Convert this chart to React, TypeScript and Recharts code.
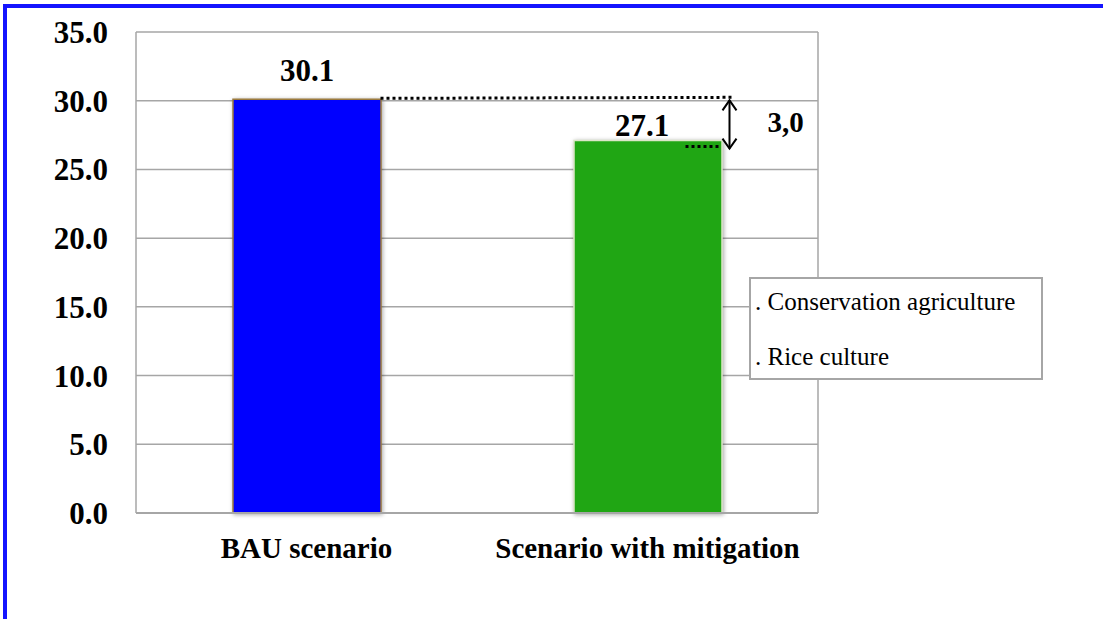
import React from 'react';
import {
  BarChart,
  Bar,
  Cell,
  XAxis,
  YAxis,
  CartesianGrid,
  LabelList,
  ReferenceLine,
} from 'recharts';

// values
const categories = ['BAU scenario', 'Scenario with mitigation'];
const emissions = [30.1, 27.1];
const yTicks = [0, 5, 10, 15, 20, 25, 30, 35];
const measures = ['. Conservation agriculture', '. Rice culture'];
const reductionText = '3,0';

const barColors = ['#0000FF', '#20A614'];
const barStrokes = ['#9C7A3C', '#DCE6C8'];
const SERIF = "'Liberation Serif', 'Times New Roman', serif";
const BAR_SIZE = 148;

const data = categories.map((name, i) => ({ name, value: emissions[i] }));

// per-bar nudge of the value labels (dx, distance above bar)
const labelShift = [
  { dx: 0, up: 18 },
  { dx: -6, up: 5 },
];

const ValueLabel = (props: any) => {
  const { x, y, width, value, index } = props;
  const s = labelShift[index] || { dx: 0, up: 5 };
  return (
    <text
      x={x + width / 2 + s.dx}
      y={y - s.up}
      textAnchor="middle"
      fontFamily={SERIF}
      fontWeight="bold"
      fontSize={31}
      fill="#000"
    >
      {Number(value).toFixed(1)}
    </text>
  );
};

// dotted guide from the BAU bar to the mitigation bar + double arrow
const GapMarker = (props: any) => {
  const { x1, y1, x2 } = props;
  const half = BAR_SIZE / 2;
  const startX = x1 + half;
  const endX = x2 + half + 11;
  const pxPerUnit = 481 / 35;
  const lowY = y1 + (emissions[0] - emissions[1]) * pxPerUnit + 6;
  const ax = endX - 3;
  return (
    <g>
      <line x1={startX} y1={y1 - 1} x2={endX} y2={y1 - 2} stroke="#000" strokeWidth={3} strokeDasharray="3 3" />
      <line x1={x2 + half - 36} y1={lowY} x2={x2 + half - 2} y2={lowY} stroke="#000" strokeWidth={3} strokeDasharray="3 3" />
      <line x1={ax} y1={y1 + 1} x2={ax} y2={lowY + 2} stroke="#000" strokeWidth={2} />
      <polyline points={`${ax - 7},${y1 + 11} ${ax},${y1 + 1} ${ax + 7},${y1 + 11}`} fill="none" stroke="#000" strokeWidth={2} />
      <polyline points={`${ax - 7},${lowY - 8} ${ax},${lowY + 2} ${ax + 7},${lowY - 8}`} fill="none" stroke="#000" strokeWidth={2} />
      <text x={endX + 53} y={y1 + 33} textAnchor="middle" fontFamily={SERIF} fontWeight="bold" fontSize={29} fill="#000">
        {reductionText}
      </text>
    </g>
  );
};

export default function App() {
  return (
    <div style={{ position: 'absolute', left: 0, top: 0, width: 1103, height: 619, background: '#fff', overflow: 'hidden' }}>
      <div
        style={{
          position: 'absolute',
          left: 3,
          top: 4,
          width: 1200,
          height: 700,
          borderTop: '4px solid #1414FF',
          borderLeft: '4px solid #1414FF',
          boxSizing: 'border-box',
        }}
      />
      <div style={{ position: 'absolute', left: 0, top: 0 }}>
        <BarChart
          width={1103}
          height={619}
          data={data}
          margin={{ top: 32, right: 285, bottom: 76, left: 0 }}
        >
          <CartesianGrid
            stroke="#A6A6A6"
            strokeWidth={1.5}
            verticalCoordinatesGenerator={({ offset }: any) => [offset.left, offset.left + offset.width]}
          />
          <XAxis
            dataKey="name"
            height={30}
            axisLine={{ stroke: '#A6A6A6', strokeWidth: 2 }}
            tickLine={false}
            tickSize={0}
            tickMargin={24}
            interval={0}
            tick={{ fontFamily: SERIF, fontWeight: 'bold', fontSize: 29, fill: '#000' }}
          />
          <YAxis
            width={136}
            domain={[0, 35]}
            ticks={yTicks}
            axisLine={false}
            tickLine={false}
            tickSize={0}
            tickMargin={28}
            tickFormatter={(v: number) => v.toFixed(1)}
            tick={{ fontFamily: SERIF, fontWeight: 'bold', fontSize: 31, fill: '#000' }}
          />
          <Bar dataKey="value" barSize={BAR_SIZE} isAnimationActive={false}>
            {data.map((d, i) => (
              <Cell
                key={d.name}
                fill={barColors[i]}
                stroke={barStrokes[i]}
                strokeWidth={1.5}
                style={{ filter: 'drop-shadow(1px 1px 2px rgba(0,0,0,0.35))' }}
              />
            ))}
            <LabelList dataKey="value" content={ValueLabel} />
          </Bar>
          <ReferenceLine
            segment={[
              { x: categories[0], y: emissions[0] },
              { x: categories[1], y: emissions[0] },
            ]}
            shape={GapMarker}
            ifOverflow="visible"
          />
        </BarChart>
      </div>
      <div
        style={{
          position: 'absolute',
          left: 749,
          top: 277,
          width: 294,
          height: 103,
          boxSizing: 'border-box',
          border: '2px solid #A6A6A6',
          background: '#fff',
          fontFamily: SERIF,
          fontSize: 25,
          lineHeight: '28px',
          color: '#000',
        }}
      >
        {measures.map((m, i) => (
          <div key={m} style={{ position: 'absolute', left: 4, top: 9 + i * 55, whiteSpace: 'nowrap' }}>
            {m}
          </div>
        ))}
      </div>
    </div>
  );
}
